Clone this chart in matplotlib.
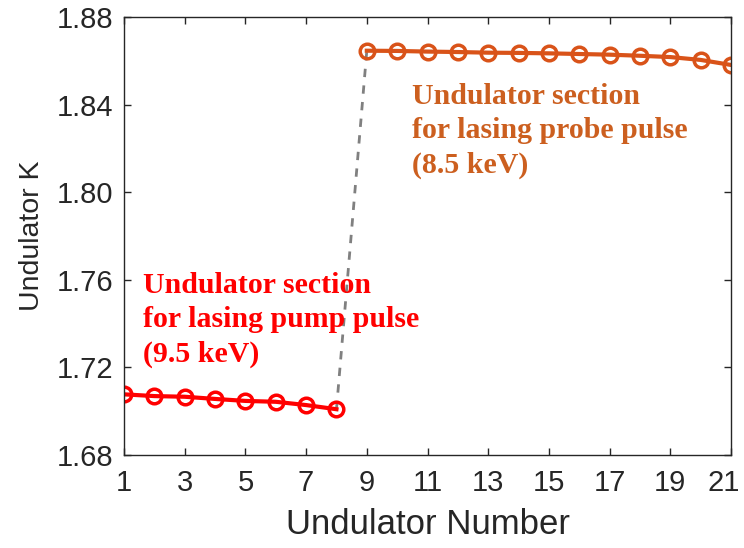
import numpy as np
import matplotlib.pyplot as plt
import matplotlib.transforms as mtransforms

# Undulator K per undulator number
pump_num = [1, 2, 3, 4, 5, 6, 7, 8]
pump_k = [1.7077, 1.7069, 1.7066, 1.7056, 1.7047, 1.7043, 1.7028, 1.7009]

probe_num = [9, 10, 11, 12, 13, 14, 15, 16, 17, 18, 19, 20, 21]
probe_k = [1.8646, 1.8645, 1.8642, 1.8640, 1.8637, 1.8636, 1.8634,
           1.8631, 1.8628, 1.8623, 1.8617, 1.8604, 1.8581]

red = "#FF0000"
orange = "#D95319"

fig = plt.figure(figsize=(7.44, 5.48), dpi=100)
ax = fig.add_axes([0.1667, 0.1697, 0.8158, 0.7993])

# gap between the two sections
ax.plot([pump_num[-1], probe_num[0]], [pump_k[-1], probe_k[0]],
        linestyle=(0, (3, 3)), color="#808080", linewidth=2)

ax.plot(pump_num, pump_k, color=red, linewidth=3, marker="o",
        markersize=10.5, markerfacecolor="none", markeredgewidth=2.5)
ax.plot(probe_num, probe_k, color=orange, linewidth=3, marker="o",
        markersize=10.5, markerfacecolor="none", markeredgewidth=2.5)

ax.set_xlim(1, 21)
ax.set_ylim(1.68, 1.88)
ax.set_xticks(np.arange(1, 22, 2))
ax.set_yticks([1.68, 1.72, 1.76, 1.80, 1.84, 1.88])
ax.set_yticklabels(["1.68", "1.72", "1.76", "1.80", "1.84", "1.88"])

tick_font = "Liberation Sans"
ax.tick_params(direction="in", length=5, width=1, colors="#262626",
               labelsize=21, top=True, right=True)
ax.tick_params(axis="x", pad=10)
ax.tick_params(axis="y", pad=8)
for lab in ax.get_xticklabels() + ax.get_yticklabels():
    lab.set_family(tick_font)
# pull last x tick label in a bit, like the original
last = ax.get_xticklabels()[-1]
last.set_transform(last.get_transform() +
                   mtransforms.ScaledTranslation(-0.07, 0, fig.dpi_scale_trans))
for s in ax.spines.values():
    s.set_color("#262626")
    s.set_linewidth(1)

ax.set_xlabel("Undulator Number", fontsize=25, family=tick_font,
              color="#262626", labelpad=8)
ax.set_ylabel("Undulator K", fontsize=20.5, family=tick_font,
              color="#262626", labelpad=8)

ax.text(1.63, 1.7636, "Undulator section\nfor lasing pump pulse\n(9.5 keV)",
        color=red, fontsize=21.5, fontweight="bold", family="Liberation Serif",
        va="top", ha="left", linespacing=1.34)
ax.text(10.49, 1.8499, "Undulator section\nfor lasing probe pulse\n(8.5 keV)",
        color="#CC5F1F", fontsize=21.5, fontweight="bold", family="Liberation Serif",
        va="top", ha="left", linespacing=1.34)

fig.savefig("out.png", dpi=100)
